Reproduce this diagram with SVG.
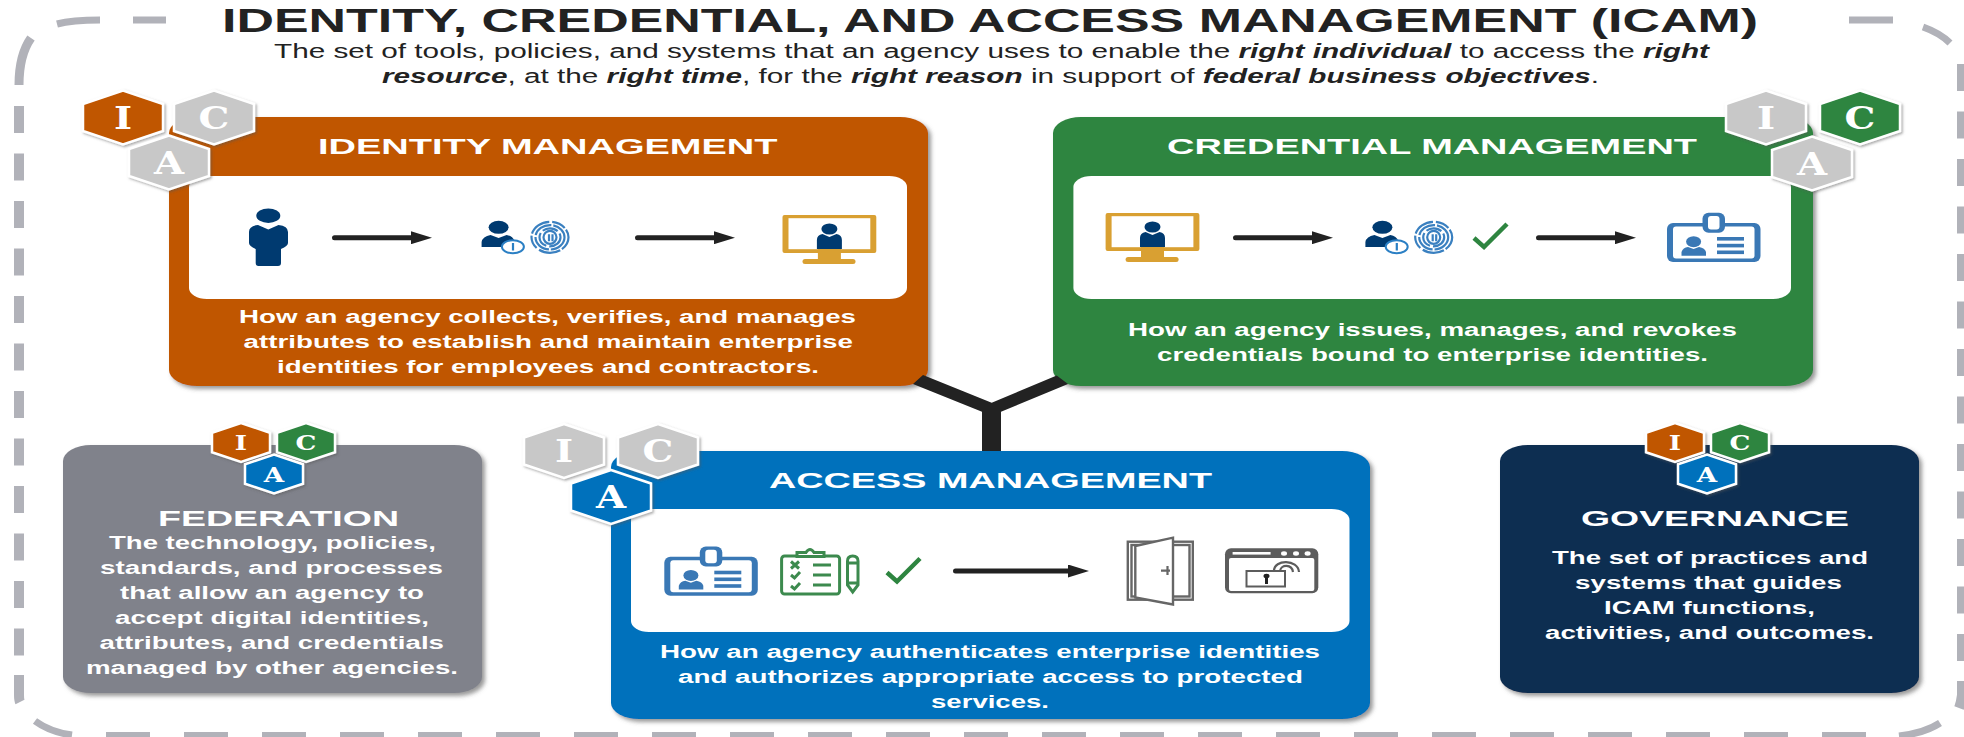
<svg xmlns="http://www.w3.org/2000/svg" width="1964" height="737" viewBox="0 0 1964 737">
<style>
text{font-family:"Liberation Sans",Arial,sans-serif}
.title{font-size:34px;font-weight:700;fill:#222}
.sub{font-size:20px;fill:#222}
.sub .e{font-weight:700;font-style:italic}
.h{font-size:22px;font-weight:700;fill:#fff}
.b{font-size:18px;font-weight:700;fill:#fff}
.l{font-family:"DejaVu Serif",serif;font-weight:700;fill:#fff;text-anchor:middle}
.lb{font-size:31px}.ls{font-size:21px}
.dash{fill:none;stroke:#b1b2b9}
.hex{stroke:#fff;stroke-width:2.5;filter:url(#hs)}
.or{fill:#c05600}.gr{fill:#2e8540}.bl{fill:#0071bc}.nv{fill:#112e51}.gy{fill:#80828b}.lg{fill:#c8c8c8}
.box{filter:url(#ds)}
.wh{fill:#fff}
.arrow{stroke:#222;stroke-width:5;stroke-linecap:round;fill:none;marker-end:url(#ah)}
.navy{fill:#003a70}
</style>
<defs>
<filter id="ds" x="-5%" y="-5%" width="110%" height="112%"><feDropShadow dx="3" dy="3" stdDeviation="2.2" flood-color="#555" flood-opacity=".6"/></filter>
<filter id="hs" x="-15%" y="-15%" width="130%" height="130%"><feDropShadow dx="1.5" dy="1.5" stdDeviation="1.2" flood-color="#555" flood-opacity=".5"/></filter>
<marker id="ah" markerUnits="userSpaceOnUse" markerWidth="21" markerHeight="13" viewBox="0 0 21 13" refX="0" refY="6.5" orient="auto"><polygon points="0,0 21,6.5 0,13" fill="#222"/></marker>
<polygon id="hx" points="0,-27 40,-13.5 40,13.5 0,27 -40,13.5 -40,-13.5"/>
<polygon id="hxs" points="0,-19.5 29,-9.75 29,9.75 0,19.5 -29,9.75 -29,-9.75"/>
<path id="chk" d="M1,15 L11,24 L34,1" fill="none" stroke="#2e8540" stroke-width="4.5"/>
<g id="mon">
<rect width="93.8" height="38" rx="2" fill="#d9a032"/><rect x="6" y="3.2" width="81.8" height="31" fill="#fff"/>
<rect x="35.4" y="34" width="23" height="11" fill="#d9a032"/><rect x="20" y="44" width="53" height="5" rx="2.5" fill="#d9a032"/>
<ellipse cx="46.9" cy="14" rx="8" ry="5.5" class="navy"/>
<path class="navy" d="M40,19 L46.9,22 L54,19 Q59.4,20 59.4,25 L59.4,34 L34.4,34 L34.4,25 Q34.4,20 40,19Z"/>
</g>
<g id="pin">
<ellipse cx="17" cy="7.3" rx="10" ry="6.5" class="navy"/>
<path class="navy" d="M0,27 L0,22 Q1,16.5 9,15 L17,18 L25,15 Q31,16 33,21 L33,27Z"/>
<ellipse cx="31.3" cy="26.7" rx="11" ry="6.5" fill="#fff" stroke="#2a7fc4" stroke-width="2"/>
<rect x="30.3" y="23" width="2.2" height="7.5" fill="#2a7fc4"/>
</g>
<g id="fp" fill="none" stroke="#3a80c0" stroke-width="2.2">
<ellipse rx="18.5" ry="15.5" stroke-dasharray="14 2 22 3"/>
<ellipse rx="14.5" ry="12.2" stroke-dasharray="20 2"/>
<ellipse rx="10.5" ry="9" stroke-dasharray="16 3"/>
<ellipse rx="6.5" ry="6.5"/>
<path d="M-1,-3 L-1,4 M2.5,-3 L2.5,4"/>
</g>
<g id="bdg">
<rect width="93.5" height="39" rx="6" fill="#3a78b5"/><rect x="6" y="3.5" width="81.5" height="32" rx="3" fill="#fff"/>
<rect x="35.5" y="-10.3" width="22.5" height="20" rx="6" fill="#3a78b5"/><rect x="41" y="-7" width="11.5" height="13.5" rx="3" fill="#fff"/>
<ellipse cx="26.6" cy="18.7" rx="7.5" ry="5.5" fill="#3a78b5"/>
<path d="M14.5,32.7 L14.5,29 Q16,24.5 21,24 L26.6,26 L32,24 Q38,25 39,29 L39,32.7Z" fill="#3a78b5"/>
<rect x="50" y="14" width="27" height="3.6" fill="#3a78b5"/><rect x="50" y="20.8" width="27" height="3.6" fill="#3a78b5"/><rect x="50" y="27.5" width="27" height="3.6" fill="#3a78b5"/>
</g>
</defs>

<rect width="1964" height="737" fill="#fff"/>

<g id="frame" class="dash">
<line x1="19" y1="106" x2="19" y2="670" stroke-width="10" stroke-dasharray="27 20.5"/>
<line x1="1962" y1="64" x2="1962" y2="670" stroke-width="10" stroke-dasharray="27 20.5"/>
<line x1="106" y1="735.5" x2="1866" y2="735.5" stroke-width="7" stroke-dasharray="44 34"/>
<line x1="133" y1="20" x2="166" y2="20" stroke-width="7"/>
<line x1="1849" y1="20" x2="1893" y2="20" stroke-width="7"/>
<path d="M31,38 Q19,55 19,85" stroke-width="9"/>
<path d="M57,24 Q72,20 100,20" stroke-width="7"/>
<path d="M1923,27 Q1940,33 1950,43" stroke-width="7"/>
<path d="M19,675 L19,695 Q19,700 20,702" stroke-width="10"/>
<path d="M1962,681 L1962,695 Q1961,703 1959,708" stroke-width="10"/>
<path d="M35,721 Q50,732 72,735" stroke-width="7"/>
<path d="M1899,736 Q1925,733 1940,723" stroke-width="7"/>
</g>

<g id="header">
<text class="title" x="222" y="32" textLength="1536" lengthAdjust="spacingAndGlyphs">IDENTITY, CREDENTIAL, AND ACCESS MANAGEMENT (ICAM)</text>
<text class="sub" x="274" y="58" textLength="1435" lengthAdjust="spacingAndGlyphs">The set of tools, policies, and systems that an agency uses to enable the <tspan class="e">right individual</tspan> to access the <tspan class="e">right</tspan></text>
<text class="sub" x="382" y="83" textLength="1217" lengthAdjust="spacingAndGlyphs"><tspan class="e">resource</tspan>, at the <tspan class="e">right time</tspan>, for the <tspan class="e">right reason</tspan> in support of <tspan class="e">federal business objectives</tspan>.</text>
</g>

<g id="identity-management">
<rect class="box or" x="169" y="117" width="759" height="269" rx="28" ry="16"/>
<rect class="wh" x="189" y="176" width="718" height="123" rx="18" ry="11"/>
<text class="h" x="318" y="154" textLength="459.5" lengthAdjust="spacingAndGlyphs">IDENTITY MANAGEMENT</text>
<ellipse cx="268.3" cy="215.7" rx="12" ry="7.3" class="navy"/>
<path class="navy" d="M258,225 L268.3,229.5 L278.5,225 Q288,226 288,232 L288,243 Q288,246 281,249 L281,263 Q281,266 278,266 L258.5,266 Q255.7,266 255.7,263 L255.7,249 Q249,246 249,243 L249,232 Q249,226 258,225Z"/>
<use href="#pin" x="481.6" y="220"/>
<use href="#fp" x="550" y="237.3"/>
<use href="#mon" x="782.5" y="215"/>
<text class="b" x="239" y="323" textLength="617" lengthAdjust="spacingAndGlyphs">How an agency collects, verifies, and manages</text>
<text class="b" x="243.5" y="348" textLength="609.5" lengthAdjust="spacingAndGlyphs">attributes to establish and maintain enterprise</text>
<text class="b" x="277" y="373" textLength="542" lengthAdjust="spacingAndGlyphs">identities for employees and contractors.</text>
<use href="#hx" x="123" y="117.5" class="hex or"/><use href="#hx" x="214" y="117.5" class="hex lg"/><use href="#hx" x="169" y="162.5" class="hex lg"/>
<text class="l lb" transform="translate(123,128.5) scale(1.25,1)">I</text>
<text class="l lb" transform="translate(214,128.5) scale(1.25,1)">C</text>
<text class="l lb" transform="translate(169,173.5) scale(1.25,1)">A</text>
</g>

<g id="credential-management">
<rect class="box gr" x="1053" y="117" width="760" height="269" rx="28" ry="16"/>
<rect class="wh" x="1073.4" y="176" width="717.6" height="123" rx="18" ry="11"/>
<text class="h" x="1167" y="154" textLength="530" lengthAdjust="spacingAndGlyphs">CREDENTIAL MANAGEMENT</text>
<use href="#mon" x="1105.6" y="213"/>
<use href="#pin" x="1365.4" y="220"/>
<use href="#fp" x="1433.7" y="237.3"/>
<use href="#chk" x="1473" y="223"/>
<use href="#bdg" x="1667" y="223"/>
<text class="b" x="1128" y="336" textLength="609" lengthAdjust="spacingAndGlyphs">How an agency issues, manages, and revokes</text>
<text class="b" x="1157" y="361" textLength="551" lengthAdjust="spacingAndGlyphs">credentials bound to enterprise identities.</text>
<use href="#hx" x="1766" y="117.5" class="hex lg"/><use href="#hx" x="1860" y="117.5" class="hex gr"/><use href="#hx" x="1812" y="163.5" class="hex lg"/>
<text class="l lb" transform="translate(1766,128.5) scale(1.25,1)">I</text>
<text class="l lb" transform="translate(1860,128.5) scale(1.25,1)">C</text>
<text class="l lb" transform="translate(1812,174.5) scale(1.25,1)">A</text>
</g>

<g id="access-management">
<rect class="box bl" x="611" y="451" width="759" height="268" rx="28" ry="16"/>
<rect class="wh" x="631" y="509" width="718.5" height="123" rx="18" ry="11"/>
<text class="h" x="769" y="488" textLength="443" lengthAdjust="spacingAndGlyphs">ACCESS MANAGEMENT</text>
<use href="#bdg" x="664.3" y="556.7"/>
<g fill="none" stroke="#3c8a4e" stroke-width="3">
<rect x="781.6" y="556" width="58" height="38" rx="3"/>
<path fill="#fff" d="M797,556.5 L797,552.5 L806,552.5 Q810,546.5 814,552.5 L824,552.5 L824,556.5Z"/>
<path d="M791,561.5 L799,568.5 M799,561.5 L791,568.5 M791,575 L794.5,578 L800,572 M791,586 L794.5,589 L800,583 M813,565 L831,565 M813,575 L831,575 M813,585 L831,585"/>
<path d="M847.5,561 Q847.5,556 852.7,556 Q858,556 858,561 L858,585 L852.7,592 L847.5,585Z M847.5,563 L858,563 M847.5,583 L858,583"/>
</g>
<use href="#chk" x="886" y="557.5"/>
<g fill="#fff" stroke="#666" stroke-width="2.4">
<rect x="1127.8" y="541.7" width="65" height="58"/>
<rect x="1131.5" y="545" width="58" height="51.5"/>
<polygon points="1135.3,546 1173,537.7 1173,604.5 1135.3,597.5"/>
</g>
<path d="M1161,570.7 L1170,570.7 M1167.5,566 L1167.5,575" stroke="#666" stroke-width="2.2" fill="none"/>
<rect x="1225" y="548.3" width="93.3" height="45" rx="6" fill="#5c5c5c"/>
<rect x="1229" y="558" width="85.3" height="33" rx="2" fill="#fff"/>
<rect x="1232.6" y="552" width="38" height="2.6" fill="#fff"/>
<ellipse cx="1284" cy="553.5" rx="3" ry="2.2" fill="#fff"/><ellipse cx="1296" cy="553.5" rx="3" ry="2.2" fill="#fff"/><ellipse cx="1307.6" cy="553.5" rx="3" ry="2.2" fill="#fff"/>
<path d="M1274,571 C1274,559 1298,559 1299,572 M1280,571 C1281,564 1292,564 1293,572" fill="none" stroke="#5c5c5c" stroke-width="2.2"/>
<rect x="1246.5" y="571" width="38.5" height="15.5" fill="#fff" stroke="#5c5c5c" stroke-width="2"/>
<ellipse cx="1266.5" cy="576" rx="3" ry="2.2" fill="#222"/><rect x="1265" y="577" width="3" height="7" fill="#222"/>
<text class="b" x="660" y="658" textLength="660" lengthAdjust="spacingAndGlyphs">How an agency authenticates enterprise identities</text>
<text class="b" x="678" y="683" textLength="625" lengthAdjust="spacingAndGlyphs">and authorizes appropriate access to protected</text>
<text class="b" x="931" y="708" textLength="118" lengthAdjust="spacingAndGlyphs">services.</text>
<use href="#hx" x="564" y="451" class="hex lg"/><use href="#hx" x="658" y="451" class="hex lg"/><use href="#hx" x="611" y="497" class="hex bl"/>
<text class="l lb" transform="translate(564,462) scale(1.25,1)">I</text>
<text class="l lb" transform="translate(658,462) scale(1.25,1)">C</text>
<text class="l lb" transform="translate(611,508) scale(1.25,1)">A</text>
</g>

<g id="federation">
<rect class="box gy" x="63" y="445" width="419" height="248" rx="28" ry="16"/>
<text class="h" x="158" y="526" textLength="241" lengthAdjust="spacingAndGlyphs">FEDERATION</text>
<text class="b" x="109" y="549" textLength="327" lengthAdjust="spacingAndGlyphs">The technology, policies,</text>
<text class="b" x="100" y="574" textLength="343" lengthAdjust="spacingAndGlyphs">standards, and processes</text>
<text class="b" x="120" y="599" textLength="304" lengthAdjust="spacingAndGlyphs">that allow an agency to</text>
<text class="b" x="115" y="624" textLength="314" lengthAdjust="spacingAndGlyphs">accept digital identities,</text>
<text class="b" x="99.5" y="649" textLength="344.5" lengthAdjust="spacingAndGlyphs">attributes, and credentials</text>
<text class="b" x="86" y="674" textLength="372" lengthAdjust="spacingAndGlyphs">managed by other agencies.</text>
<use href="#hxs" x="241" y="442.5" class="hex or"/><use href="#hxs" x="306" y="442.5" class="hex gr"/><use href="#hxs" x="274" y="474" class="hex bl"/>
<text class="l ls" transform="translate(241,450) scale(1.25,1)">I</text>
<text class="l ls" transform="translate(306,450) scale(1.25,1)">C</text>
<text class="l ls" transform="translate(274,481.5) scale(1.25,1)">A</text>
</g>

<g id="governance">
<rect class="box nv" x="1500" y="445" width="419" height="248" rx="28" ry="16"/>
<text class="h" x="1581" y="526" textLength="268" lengthAdjust="spacingAndGlyphs">GOVERNANCE</text>
<text class="b" x="1552" y="564" textLength="316" lengthAdjust="spacingAndGlyphs">The set of practices and</text>
<text class="b" x="1575" y="589" textLength="267" lengthAdjust="spacingAndGlyphs">systems that guides</text>
<text class="b" x="1604" y="614" textLength="211" lengthAdjust="spacingAndGlyphs">ICAM functions,</text>
<text class="b" x="1545" y="639" textLength="329" lengthAdjust="spacingAndGlyphs">activities, and outcomes.</text>
<use href="#hxs" x="1675" y="442.5" class="hex or"/><use href="#hxs" x="1740" y="442.5" class="hex gr"/><use href="#hxs" x="1707" y="474" class="hex bl"/>
<text class="l ls" transform="translate(1675,450) scale(1.25,1)">I</text>
<text class="l ls" transform="translate(1740,450) scale(1.25,1)">C</text>
<text class="l ls" transform="translate(1707,481.5) scale(1.25,1)">A</text>
</g>

<g id="connectors">
<polygon fill="#222" points="991.7,402.7 1056.7,375.5 1068,384 1001,411.7 1001,451 982,451 982,411.7 913,384 923,375"/>
<line class="arrow" x1="334.5" y1="237.7" x2="411" y2="237.7"/>
<line class="arrow" x1="637.5" y1="237.7" x2="714" y2="237.7"/>
<line class="arrow" x1="1235.5" y1="237.7" x2="1312" y2="237.7"/>
<line class="arrow" x1="1538.5" y1="237.7" x2="1615" y2="237.7"/>
<line class="arrow" x1="955.5" y1="571" x2="1068" y2="571"/>
</g>
</svg>
